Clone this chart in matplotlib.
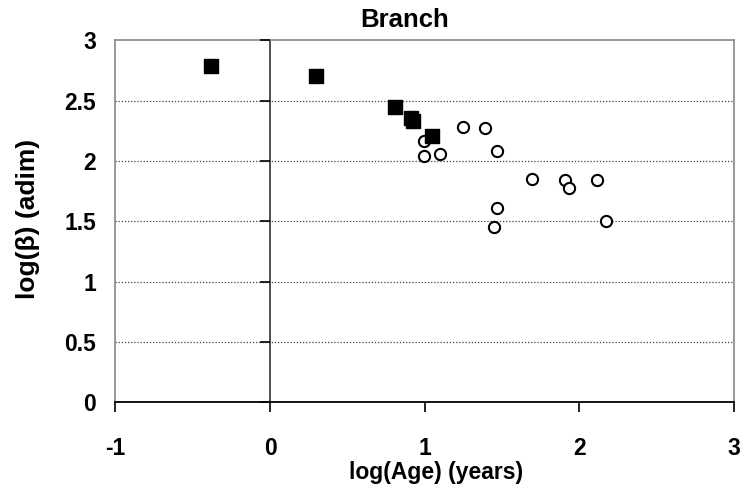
import matplotlib
matplotlib.use("Agg")
import matplotlib.pyplot as plt
from matplotlib.markers import TICKLEFT

plt.rcParams['font.family'] = ['Liberation Sans', 'DejaVu Sans']

# Filled squares
sq_x = [-0.38, 0.295, 0.81, 0.91, 0.925, 1.045]
sq_y = [2.79, 2.70, 2.445, 2.36, 2.335, 2.21]
# Open circles
ci_x = [0.997, 0.997, 1.10, 1.25, 1.39, 1.47, 1.695, 1.905, 1.935, 2.115, 1.47, 1.45, 2.17]
ci_y = [2.163, 2.045, 2.06, 2.285, 2.27, 2.083, 1.85, 1.84, 1.78, 1.84, 1.61, 1.45, 1.50]

xticks = [-1, 0, 1, 2, 3]
yticks = [0, 0.5, 1, 1.5, 2, 2.5, 3]
ytick_labels = ['0', '0.5', '1', '1.5', '2', '2.5', '3']
xtick_labels = ['-1', '0', '1', '2', '3']

fig = plt.figure(figsize=(7.45, 4.95), dpi=100)
ax = fig.add_axes([0.155, 0.1873, 0.83, 0.7313])
ax.set_xlim(-1, 3)
ax.set_ylim(0, 3)

for g in yticks[1:-1]:
    ax.axhline(g, color='#444444', linestyle=(0, (1, 1.5)), linewidth=0.9, zorder=1)
ax.axvline(0, color='#333333', linewidth=1.2, zorder=2)
ax.plot([0] * len(yticks), yticks, marker=TICKLEFT, ms=7, mew=1.2, color='black',
        linestyle='none', clip_on=False, zorder=3)

ax.scatter(sq_x, sq_y, marker='s', s=110, color='black', zorder=5)
ax.scatter(ci_x, ci_y, marker='o', s=65, facecolor='white', edgecolor='black',
           linewidths=1.5, zorder=4)

for side in ['left', 'top', 'right']:
    ax.spines[side].set_color('#888888')
    ax.spines[side].set_linewidth(1.2)
ax.spines['bottom'].set_color('black')
ax.spines['bottom'].set_linewidth(1.3)

ax.set_xticks(xticks)
ax.set_xticklabels(xtick_labels)
ax.set_yticks(yticks)
ax.set_yticklabels(ytick_labels)
ax.tick_params(axis='x', direction='out', length=7, width=1.2, color='black',
               pad=18, labelsize=16.5)
ax.tick_params(axis='y', length=0, pad=14, labelsize=16.5)
for lbl in ax.get_xticklabels() + ax.get_yticklabels():
    lbl.set_fontweight('bold')

ax.set_xlabel('log(Age) (years)', fontsize=16.5, fontweight='bold', va='center')
ax.xaxis.set_label_coords(0.518, -0.195)
ax.set_ylabel('log(β) (adim)', fontsize=19, fontweight='bold', va='center')
ax.yaxis.set_label_coords(-0.141, 0.506)
fig.text(405 / 745, 1 - 20 / 495, 'Branch', fontsize=18.5, fontweight='bold',
         ha='center', va='center')

fig.savefig('out.png', dpi=100)
